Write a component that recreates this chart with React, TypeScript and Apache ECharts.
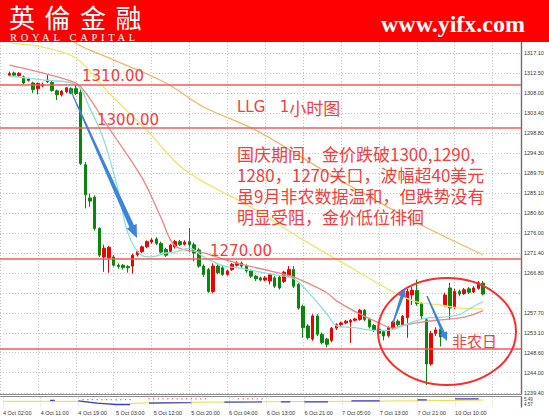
import { useEffect, useRef } from 'react';
import * as echarts from 'echarts';

// Hourly XAUUSD-style candles, 4 Oct – 10 Oct
const xTickLabels = [
  '4 Oct 02:00', '4 Oct 11:00', '4 Oct 19:00', '5 Oct 03:00', '5 Oct 12:00',
  '5 Oct 20:00', '6 Oct 04:00', '6 Oct 13:00', '6 Oct 21:00', '7 Oct 05:00',
  '7 Oct 13:00', '7 Oct 21:00', '10 Oct 10:00',
];
const BARS_PER_TICK = 8;
const SLOT_COUNT = 111;
const FIRST_BAR_SLOT = 2;

// [open, close, low, high]
const candles: number[][] = [
  [1312.1, 1312.5, 1311.8, 1312.9], [1312.6, 1312.1, 1311.8, 1312.9], [1312.0, 1312.5, 1311.7, 1312.8],
  [1311.7, 1310.3, 1310.0, 1312.0], [1310.9, 1311.2, 1310.6, 1311.5], [1310.3, 1308.8, 1308.0, 1310.6],
  [1309.0, 1310.2, 1307.7, 1310.4], [1309.6, 1310.0, 1309.3, 1310.4], [1310.6, 1311.0, 1310.3, 1312.1],
  [1310.4, 1308.6, 1308.3, 1310.8], [1308.5, 1307.6, 1306.4, 1308.8], [1307.6, 1308.4, 1307.2, 1308.7],
  [1308.3, 1309.2, 1308.0, 1309.4], [1309.0, 1308.0, 1307.7, 1309.3], [1309.0, 1307.9, 1307.6, 1310.0],
  [1308.2, 1291.9, 1291.5, 1309.0], [1291.6, 1284.7, 1281.6, 1292.2], [1284.0, 1283.3, 1282.0, 1285.0],
  [1284.2, 1277.0, 1276.5, 1284.6], [1277.0, 1270.9, 1270.5, 1277.3], [1270.5, 1272.5, 1267.1, 1273.3],
  [1270.3, 1272.7, 1266.9, 1273.0], [1270.5, 1268.6, 1268.3, 1270.9], [1268.6, 1268.3, 1267.8, 1269.0],
  [1268.6, 1268.1, 1267.6, 1268.9], [1268.3, 1268.0, 1266.9, 1268.6], [1268.4, 1270.9, 1266.7, 1271.2],
  [1271.0, 1271.7, 1270.6, 1272.0], [1271.7, 1272.8, 1271.4, 1273.1], [1272.8, 1274.0, 1272.5, 1274.3],
  [1273.9, 1274.4, 1273.5, 1274.8], [1274.6, 1273.6, 1273.2, 1275.0], [1273.6, 1271.6, 1271.3, 1274.0],
  [1272.2, 1270.9, 1270.5, 1272.6], [1271.8, 1273.2, 1271.4, 1273.5], [1272.8, 1274.0, 1272.4, 1274.4],
  [1274.0, 1273.3, 1273.0, 1274.4], [1273.4, 1273.9, 1273.1, 1274.3], [1274.0, 1273.3, 1271.6, 1277.1],
  [1273.3, 1271.4, 1269.5, 1273.8], [1272.1, 1268.4, 1268.0, 1272.5], [1268.4, 1266.5, 1265.9, 1268.8],
  [1267.6, 1262.6, 1262.3, 1268.0], [1262.6, 1268.4, 1262.2, 1269.0], [1268.4, 1266.9, 1266.5, 1268.8],
  [1268.0, 1266.5, 1266.2, 1268.4], [1266.5, 1267.3, 1266.2, 1267.6], [1267.6, 1268.8, 1267.3, 1269.1],
  [1268.6, 1269.1, 1268.3, 1269.5], [1269.1, 1268.4, 1268.0, 1269.4], [1268.4, 1267.3, 1266.9, 1268.8],
  [1267.3, 1266.1, 1265.7, 1267.6], [1266.1, 1265.5, 1265.0, 1266.4], [1265.7, 1265.2, 1264.9, 1266.0],
  [1265.2, 1265.7, 1264.9, 1266.1], [1265.0, 1266.4, 1264.2, 1266.8], [1265.7, 1263.8, 1263.4, 1266.1],
  [1265.9, 1263.4, 1263.0, 1266.3], [1264.9, 1267.0, 1264.5, 1267.3], [1266.2, 1267.6, 1265.9, 1268.4],
  [1267.6, 1263.8, 1263.4, 1268.4], [1264.2, 1258.8, 1258.4, 1264.5], [1259.2, 1254.3, 1252.0, 1259.6],
  [1254.7, 1252.0, 1251.6, 1255.1], [1251.7, 1257.0, 1251.3, 1257.4], [1257.0, 1252.8, 1252.4, 1257.4],
  [1252.8, 1250.9, 1250.5, 1253.2], [1251.7, 1250.5, 1249.8, 1252.0], [1251.4, 1254.2, 1251.0, 1254.5],
  [1254.2, 1255.0, 1253.8, 1255.3], [1255.0, 1255.4, 1254.7, 1255.7], [1255.4, 1255.8, 1255.1, 1256.1],
  [1255.6, 1256.0, 1250.8, 1256.3], [1256.0, 1256.3, 1255.7, 1256.6], [1256.2, 1258.3, 1255.9, 1258.6],
  [1258.3, 1256.2, 1255.8, 1258.6], [1256.2, 1254.5, 1254.1, 1256.6], [1254.8, 1253.7, 1253.3, 1255.1],
  [1254.0, 1253.0, 1252.5, 1254.3], [1253.4, 1252.4, 1251.4, 1253.7], [1252.5, 1254.3, 1252.1, 1254.6],
  [1254.3, 1255.6, 1254.0, 1255.9], [1255.8, 1255.0, 1254.6, 1256.2], [1255.0, 1256.9, 1254.7, 1257.2],
  [1256.6, 1262.6, 1252.0, 1263.2], [1261.8, 1262.9, 1259.5, 1263.6], [1262.8, 1259.8, 1259.3, 1265.3],
  [1259.8, 1257.0, 1256.2, 1260.2], [1256.1, 1246.0, 1241.2, 1256.5], [1246.0, 1253.0, 1245.6, 1253.6],
  [1253.0, 1253.8, 1252.4, 1254.4], [1254.0, 1252.2, 1250.0, 1254.4], [1259.5, 1261.8, 1259.1, 1262.3],
  [1263.4, 1258.8, 1256.1, 1264.6], [1259.0, 1262.6, 1258.6, 1263.2], [1262.6, 1262.0, 1261.5, 1263.0],
  [1262.1, 1263.0, 1261.8, 1263.4], [1263.2, 1262.4, 1262.0, 1263.6], [1262.5, 1263.4, 1262.2, 1263.8],
  [1263.3, 1264.6, 1263.0, 1265.0], [1264.5, 1262.0, 1261.7, 1265.0],
];

// Moving averages as [slot, price]
const maFast: number[][] = [
  [2, 1311.9], [9, 1311.0], [16, 1310.0], [19, 1304.5], [22, 1297.0], [25, 1285.5], [27, 1276.0],
  [30, 1270.8], [32, 1270.5], [35, 1271.4], [37, 1271.6], [40, 1272.5], [43, 1270.5], [47, 1268.5],
  [51, 1267.9], [57, 1266.6], [62, 1265.5], [65, 1262.5], [69, 1257.5], [71, 1254.8], [75, 1254.3],
  [79, 1253.7], [82, 1253.7], [86, 1255.2], [90, 1256.5], [93, 1256.7], [97, 1257.3], [99, 1258.6],
  [102, 1260.3],
];
const maMid: number[][] = [
  [2, 1314.4], [9, 1312.6], [16, 1310.3], [18, 1308.2], [23, 1300.0], [30, 1288.6], [34, 1279.5],
  [37, 1273.0], [43, 1271.4], [50, 1269.1], [57, 1267.3], [62, 1265.9], [65, 1264.5], [69, 1262.3],
  [71, 1260.5], [75, 1258.0], [80, 1255.4], [83, 1254.2], [85, 1254.8], [89, 1255.6], [93, 1256.1],
  [98, 1256.7], [102, 1258.2],
];
const maSlow: number[][] = [
  [2, 1319.4], [9, 1318.5], [16, 1316.0], [23, 1308.0], [31, 1299.5], [39, 1290.4], [53, 1281.9],
  [64, 1274.4], [75, 1267.5], [83, 1262.5], [88, 1260.2], [93, 1259.5], [97, 1258.8], [102, 1258.6],
];
const maLong: number[][] = [
  [14, 1320.6], [16, 1319.4], [19, 1317.8], [24, 1315.6], [35, 1310.3], [43, 1304.8], [54, 1299.5],
  [70, 1289.2], [87, 1278.9], [102, 1271.0],
];

const priceTicks = [
  1317.1, 1312.5, 1308.0, 1303.4, 1298.8, 1294.3, 1289.7, 1285.1, 1280.6,
  1276.0, 1271.4, 1266.8, 1262.2, 1257.7, 1253.1, 1248.6, 1244.0, 1239.4,
];
const currentPrice = 1262.0;
const keyLevels = [1310, 1300, 1270];
const supportLevel = 1249.5;
const priceMin = 1239.02;
const priceMax = 1319.68;

// Oscillator sub-window
const oscSlow: number[][] = [
  [0, 6], [16, 6], [20, 4], [26, 3.5], [31, 4.5], [40, 5], [56, 5.5], [72, 6], [88, 6.5], [102, 7.3],
];
const oscFast: (number | string)[][] = [
  [10, 7], [11, 7], [12, '-'], [16, 6.5], [20, 4], [24, 2.5], [27, 2.5], [28, '-'], [31, 4], [35, 4.3],
  [40, 4.5], [41, '-'], [47, 5.2], [55, 5.3], [56, '-'], [59, 5.5], [61, 5.5], [62, '-'], [64, 5.5],
  [69, 5.5], [70, '-'], [74, 6.5], [80, 6.5], [81, '-'], [88, 7.5], [90, 7.5], [91, '-'], [96, 8.5], [101, 8.5],
];
const oscUpSlots = [17, 18, 19, 20, 21, 22, 23, 24, 25, 26, 27];
const oscDownSlots = [31, 32, 33, 34, 35, 36, 37, 38, 39, 40, 41, 42, 43, 50, 51, 52, 53, 54, 55];
const oscLabels = ['5.49', '4.57'];

const noteLines = [
  '国庆期间，金价跌破1300,1290,',
  '1280，1270关口，波幅超40美元',
  '虽9月非农数据温和，但跌势没有',
  '明显受阻，金价低位徘徊',
];

const RED = '#ff0000';
const NOTE_RED = '#f63c3c';
const ARROW_BLUE = '#3c84de';
const GRID_GREY = '#c4c4c4';
const LABEL_GREY = '#333333';

function arrowPoints(x0: number, y0: number, x1: number, y1: number, w0: number, w1: number, headLen: number, headHalf: number) {
  const dx = x1 - x0;
  const dy = y1 - y0;
  const len = Math.hypot(dx, dy);
  const ux = dx / len;
  const uy = dy / len;
  const nx = -uy;
  const ny = ux;
  const bx = x1 - ux * headLen;
  const by = y1 - uy * headLen;
  return [
    [x0 + (nx * w0) / 2, y0 + (ny * w0) / 2],
    [bx + (nx * w1) / 2, by + (ny * w1) / 2],
    [bx + nx * headHalf, by + ny * headHalf],
    [x1, y1],
    [bx - nx * headHalf, by - ny * headHalf],
    [bx - (nx * w1) / 2, by - (ny * w1) / 2],
    [x0 - (nx * w0) / 2, y0 - (ny * w0) / 2],
  ];
}

export default function App() {
  const ref = useRef<HTMLDivElement>(null);

  useEffect(() => {
    if (!ref.current) return;
    const chart = echarts.init(ref.current, undefined, { renderer: 'svg' });

    const slots = Array.from({ length: SLOT_COUNT }, (_, i) => String(i));
    const isTick = (i: number) => i % BARS_PER_TICK === 0;
    const tickText = (i: number) => (isTick(i) ? xTickLabels[i / BARS_PER_TICK] ?? '' : '');
    const gridLeft = -9.65;
    const gridWidth = 530.65;
    const emptyBar = ['-', '-', '-', '-'];
    const barData = [...Array.from({ length: FIRST_BAR_SLOT }, () => emptyBar), ...candles];

    const maSeries = (name: string, data: number[][], color: string, extra: object = {}) => ({
      name,
      type: 'line',
      data,
      xAxisIndex: 0,
      yAxisIndex: 0,
      showSymbol: false,
      smooth: 0.35,
      silent: true,
      z: 3,
      lineStyle: { color, width: 1.3 },
      ...extra,
    });

    chart.setOption({
      animation: false,
      backgroundColor: '#ffffff',
      textStyle: { fontFamily: 'Liberation Sans' },
      grid: [
        { left: gridLeft, width: gridWidth, top: 42, height: 352.5 },
        { left: gridLeft, width: gridWidth, top: 397.5, height: 9.5 },
      ],
      xAxis: [
        {
          type: 'category', gridIndex: 0, data: slots, boundaryGap: false,
          axisLine: { show: false }, axisTick: { show: false }, axisLabel: { show: false },
          splitLine: { show: true, interval: (i: number) => isTick(i), lineStyle: { color: GRID_GREY, type: [1, 2], width: 1 } },
        },
        {
          type: 'category', gridIndex: 1, data: slots, boundaryGap: false,
          axisLine: { show: false }, axisTick: { show: false },
          axisLabel: {
            show: true, interval: (i: number) => isTick(i), formatter: (_v: string, i: number) => tickText(i),
            align: 'left', fontSize: 5.5, color: LABEL_GREY, margin: 3, fontFamily: 'Liberation Sans',
          },
          splitLine: { show: true, interval: (i: number) => isTick(i), lineStyle: { color: GRID_GREY, type: [1, 2], width: 1 } },
        },
      ],
      yAxis: [
        {
          type: 'value', gridIndex: 0, position: 'right', min: priceMin, max: priceMax,
          axisLine: { show: true, lineStyle: { color: '#6e6e6e', width: 1.4 } },
          axisTick: { show: false }, axisLabel: { show: false }, splitLine: { show: false },
        },
        {
          type: 'value', gridIndex: 1, position: 'right', min: 0, max: 10,
          axisLine: { show: true, lineStyle: { color: '#6e6e6e', width: 1.4 } },
          axisTick: { show: false }, axisLabel: { show: false }, splitLine: { show: false },
        },
      ],
      series: [
        {
          name: 'price',
          type: 'candlestick',
          xAxisIndex: 0,
          yAxisIndex: 0,
          data: barData,
          barWidth: 3,
          silent: true,
          z: 2,
          itemStyle: {
            color: '#f20000', color0: '#0a870a', borderColor: '#f20000', borderColor0: '#0a870a',
            borderColorDoji: '#f20000', borderWidth: 1,
          },
          markLine: {
            silent: true, symbol: ['none', 'none'], z: 1, animation: false,
            lineStyle: { color: GRID_GREY, type: [1, 2], width: 1 },
            label: { show: true, position: 'end', distance: 3, fontSize: 5.5, color: LABEL_GREY, fontFamily: 'Liberation Sans' },
            data: priceTicks.map((v) => ({
              yAxis: v,
              label: { formatter: Math.abs(v - currentPrice) < 1 ? '' : v.toFixed(2) },
            })),
          },
        },
        maSeries('maLong', maLong, '#f3b766'),
        maSeries('maSlow', maSlow, '#f2e36a'),
        maSeries('maMid', maMid, '#f08484'),
        maSeries('maFast', maFast, '#86e3dc', {
          markLine: {
            silent: true, symbol: ['none', 'none'], z: 6, animation: false,
            data: [
              ...[...keyLevels, supportLevel].map((v) => ({
                yAxis: v,
                lineStyle: { color: '#f45a5a', width: 1.6, type: 'solid' },
                label: { show: false },
              })),
              {
                yAxis: currentPrice,
                lineStyle: { opacity: 0 },
                label: {
                  show: true, position: 'end', distance: 1.5, formatter: currentPrice.toFixed(2),
                  backgroundColor: '#000000', color: '#ffffff', padding: [1, 1.5, 1, 1.5],
                  fontSize: 5.5, fontFamily: 'Liberation Sans',
                },
              },
            ],
          },
        }),
        {
          name: 'oscSlow', type: 'line', xAxisIndex: 1, yAxisIndex: 1, data: oscSlow,
          showSymbol: false, silent: true, lineStyle: { color: '#e9df3e', width: 1 },
        },
        {
          name: 'oscFast', type: 'line', xAxisIndex: 1, yAxisIndex: 1, data: oscFast,
          showSymbol: false, silent: true, connectNulls: false, lineStyle: { color: '#3a3ad8', width: 1.2 },
        },
        {
          name: 'oscUp', type: 'scatter', xAxisIndex: 1, yAxisIndex: 1, silent: true,
          data: oscUpSlots.map((s) => [s, 7.8]), symbol: 'rect', symbolSize: 1.2,
          itemStyle: { color: '#2ca02c' },
        },
        {
          name: 'oscDown', type: 'scatter', xAxisIndex: 1, yAxisIndex: 1, silent: true,
          data: oscDownSlots.map((s) => [s, 8.6]), symbol: 'rect', symbolSize: 1.2,
          itemStyle: { color: '#e04040' },
        },
      ],
    });

    const yOf = (p: number) => chart.convertToPixel({ yAxisIndex: 0 }, p) as number;
    const levelLabelX = [82, 97, 210];

    const cjk = '"Noto Sans CJK SC", "Noto Sans", sans-serif';
    const graphics: any[] = [
      { type: 'rect', z: 100, shape: { x: 0, y: 0, width: 549, height: 42 }, style: { fill: RED } },
      {
        type: 'text', z: 101, x: 9, y: 16.5,
        style: { text: '英倫金融', fill: '#ffffff', font: '26px "Noto Sans CJK TC", sans-serif', verticalAlign: 'middle', align: 'left' },
      },
      {
        type: 'text', z: 101, x: 10, y: 37,
        style: { text: 'ROYAL CAPITAL', fill: '#ffffff', font: '10.5px "Liberation Serif", serif', verticalAlign: 'middle', align: 'left' },
      },
      {
        type: 'text', z: 101, x: 381, y: 23.6,
        style: { text: 'www.yifx.com', fill: '#ffffff', font: 'bold 24px "Liberation Serif", serif', verticalAlign: 'middle', align: 'left' },
      },
      ...keyLevels.map((v, i) => ({
        type: 'text', z: 60, x: levelLabelX[i], y: yOf(v) - 8.2,
        style: { text: v.toFixed(2), fill: NOTE_RED, font: '15px "DejaVu Sans", sans-serif', verticalAlign: 'middle', align: 'left' },
      })),
      {
        type: 'text', z: 60, x: 237, y: 107,
        style: {
          text: '{a|LLG   1}{b|小时图}', verticalAlign: 'middle', align: 'left',
          rich: {
            a: { fill: NOTE_RED, fontSize: 15, fontFamily: 'DejaVu Sans' },
            b: { fill: NOTE_RED, fontSize: 17, fontFamily: 'Noto Sans CJK SC' },
          },
        },
      },
      {
        type: 'text', z: 60, x: 237, y: 142.4,
        style: { text: noteLines.join('\n'), fill: NOTE_RED, font: `17px ${cjk}`, lineHeight: 21.3, verticalAlign: 'top', align: 'left' },
      },
      {
        type: 'text', z: 60, x: 452, y: 340,
        style: { text: '非农日', fill: NOTE_RED, font: `15px ${cjk}`, verticalAlign: 'middle', align: 'left' },
      },
      {
        type: 'ellipse', z: 60, shape: { cx: 447, cy: 331.5, rx: 69, ry: 53.5 },
        style: { fill: 'none', stroke: '#ff2a2a', lineWidth: 2 },
      },
      {
        type: 'polygon', z: 61, shape: { points: arrowPoints(70, 89, 137, 238, 1, 5, 13, 5.5) },
        style: { fill: ARROW_BLUE },
      },
      {
        type: 'polygon', z: 61, shape: { points: arrowPoints(393, 323, 405, 288, 1.5, 3.5, 9, 4) },
        style: { fill: ARROW_BLUE },
      },
      {
        type: 'polygon', z: 61, shape: { points: arrowPoints(427, 296, 447, 341, 1.5, 3, 9, 4) },
        style: { fill: ARROW_BLUE },
      },
      { type: 'line', z: 20, shape: { x1: 0, y1: 394.5, x2: 522, y2: 394.5 }, style: { stroke: '#8c8c8c', lineWidth: 1 } },
      { type: 'line', z: 20, shape: { x1: 0, y1: 396.5, x2: 522, y2: 396.5 }, style: { stroke: '#8c8c8c', lineWidth: 1 } },
      ...oscLabels.map((t, i) => ({
        type: 'text', z: 20, x: 524, y: 399.5 + i * 5,
        style: { text: t, fill: LABEL_GREY, font: '4.5px "Liberation Sans", sans-serif', verticalAlign: 'middle', align: 'left' },
      })),
    ];
    chart.setOption({ graphic: graphics });

    // Spread out the header lettering
    const spacing: Record<string, string> = { '英倫金融': '9.5px', 'ROYAL CAPITAL': '3.7px' };
    const applySpacing = () => {
      ref.current?.querySelectorAll('text').forEach((t) => {
        const s = (t.textContent || '').trim();
        if (spacing[s]) (t as SVGTextElement).style.letterSpacing = spacing[s];
      });
    };
    applySpacing();
    chart.on('finished', applySpacing);
    const timer = window.setTimeout(applySpacing, 30);

    return () => {
      window.clearTimeout(timer);
      chart.dispose();
    };
  }, []);

  return (
    <div
      ref={ref}
      style={{ position: 'fixed', left: 0, top: 0, width: 549, height: 417, background: '#fff' }}
    />
  );
}
